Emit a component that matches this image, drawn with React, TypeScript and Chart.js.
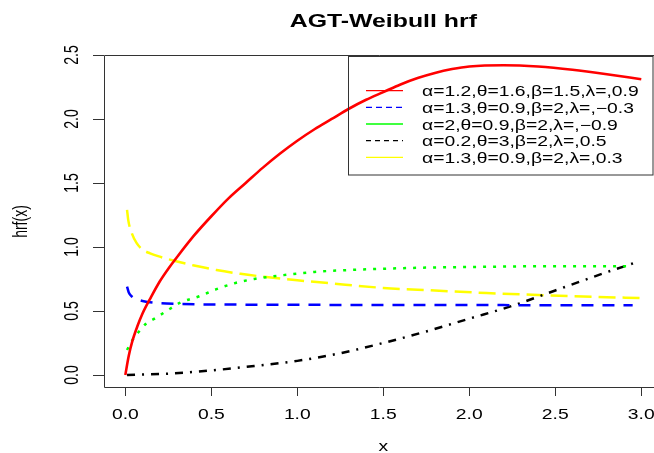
import React, { useEffect, useRef } from "react";
import { Chart, registerables } from "chart.js";

Chart.register(...registerables);

// ---- Data ----
const chartTitle = "AGT-Weibull hrf";
const xTitle = "x";
const yTitle = "hrf(x)";
const xTicks = [0, 0.5, 1, 1.5, 2, 2.5, 3];
const yTicks = [0, 0.5, 1, 1.5, 2, 2.5];
const xTickLabels = ["0.0", "0.5", "1.0", "1.5", "2.0", "2.5", "3.0"];
const yTickLabels = ["0.0", "0.5", "1.0", "1.5", "2.0", "2.5"];

const seriesLabels = [
  "α=1.2,θ=1.6,β=1.5,λ=,0.9",
  "α=1.3,θ=0.9,β=2,λ=,−0.3",
  "α=2,θ=0.9,β=2,λ=,−0.9",
  "α=0.2,θ=3,β=2,λ=,0.5",
  "α=1.3,θ=0.9,β=2,λ=,0.3",
];

const redX = [0, 0.02, 0.04, 0.07, 0.1, 0.15, 0.2, 0.25, 0.3, 0.4, 0.5, 0.6, 0.7, 0.8, 0.9, 1.0, 1.1, 1.2, 1.3, 1.4, 1.5, 1.6, 1.7, 1.8, 1.9, 2.0, 2.2, 2.4, 2.6, 2.8, 3.0];
const redY = [0, 0.15, 0.26, 0.38, 0.48, 0.61, 0.73, 0.83, 0.92, 1.09, 1.24, 1.38, 1.5, 1.62, 1.73, 1.83, 1.92, 2.0, 2.08, 2.15, 2.21, 2.27, 2.32, 2.36, 2.39, 2.41, 2.42, 2.41, 2.385, 2.35, 2.31];

const blueX = [0.01, 0.02, 0.04, 0.07, 0.1, 0.16, 0.3, 0.6, 1.0, 1.5, 2.0, 2.5, 2.95];
const blueY = [0.69, 0.645, 0.61, 0.59, 0.578, 0.565, 0.555, 0.55, 0.548, 0.547, 0.546, 0.545, 0.544];

const greenX = [0.01, 0.04, 0.08, 0.12, 0.17, 0.24, 0.32, 0.43, 0.53, 0.63, 0.75, 0.92, 1.1, 1.3, 1.5, 1.8, 2.1, 2.5, 2.95];
const greenY = [0.195, 0.27, 0.34, 0.4, 0.44, 0.5, 0.565, 0.615, 0.67, 0.715, 0.75, 0.78, 0.805, 0.82, 0.83, 0.84, 0.845, 0.85, 0.85];

const blackX = [0.01, 0.25, 0.5, 0.75, 1.0, 1.25, 1.5, 1.75, 2.0, 2.25, 2.5, 2.75, 2.97];
const blackY = [0, 0.01, 0.035, 0.07, 0.11, 0.17, 0.25, 0.34, 0.44, 0.54, 0.66, 0.78, 0.88];

const yellowX = [0.01, 0.017, 0.037, 0.066, 0.1, 0.144, 0.21, 0.29, 0.4, 0.53, 0.67, 0.82, 1.0, 1.2, 1.5, 1.8, 2.1, 2.4, 2.75, 3.0];
const yellowY = [1.29, 1.21, 1.11, 1.03, 0.98, 0.95, 0.92, 0.89, 0.855, 0.82, 0.79, 0.765, 0.74, 0.715, 0.68, 0.66, 0.64, 0.625, 0.61, 0.6];

const X_MIN = -0.124;
const X_MAX = 3.074;
const Y_MIN = -0.102;
const Y_MAX = 2.5;

// ---- Styles ----
const colors = ["#ff0000", "#0000ff", "#00ff00", "#000000", "#ffff00"];
const curveDash = [[], [12, 9], [3, 7], [8, 7, 2, 7], [17, 7]];
const curveWidth = [2.6, 2.5, 2.5, 2.5, 2.5];
const legendDash = [[], [6, 4], [], [5, 4], []];
const SX = 1.38;
const FONT = '"Liberation Sans", Arial, Helvetica, sans-serif';

function pts(xs: number[], ys: number[]) {
  return xs.map((x, i) => ({ x, y: ys[i] }));
}

function drawText(
  ctx: CanvasRenderingContext2D,
  s: string,
  x: number,
  y: number,
  font: string,
  align: CanvasTextAlign,
  rotate = false
) {
  ctx.save();
  ctx.translate(x, y);
  ctx.scale(SX, 1);
  if (rotate) ctx.rotate(-Math.PI / 2);
  ctx.font = font;
  ctx.textAlign = align;
  ctx.textBaseline = "alphabetic";
  ctx.fillStyle = "#000";
  ctx.fillText(s, 0, 0);
  ctx.restore();
}

const rPlotPlugin = {
  id: "rPlot",
  afterDraw(chart: any) {
    const ctx: CanvasRenderingContext2D = chart.ctx;
    const { left, top, bottom, right } = chart.chartArea;
    const xs = chart.scales.x;
    const ys = chart.scales.y;
    ctx.save();
    ctx.strokeStyle = "#333";
    ctx.lineWidth = 1;
    ctx.beginPath();
    ctx.moveTo(right + 2, top + 0.5);
    ctx.lineTo(left + 0.5, top + 0.5);
    ctx.lineTo(left + 0.5, bottom - 0.5);
    ctx.lineTo(right + 2, bottom - 0.5);
    ctx.stroke();
    ctx.beginPath();
    xTicks.forEach((v) => {
      const px = Math.round(xs.getPixelForValue(v)) + 0.5;
      ctx.moveTo(px, bottom);
      ctx.lineTo(px, bottom + 8);
    });
    yTicks.forEach((v) => {
      const py = Math.round(ys.getPixelForValue(v)) + 0.5;
      ctx.moveTo(left, py);
      ctx.lineTo(left - 11, py);
    });
    ctx.stroke();
    ctx.restore();

    const tickFont = `14px ${FONT}`;
    xTicks.forEach((v, i) => {
      drawText(ctx, xTickLabels[i], xs.getPixelForValue(v), bottom + 31, tickFont, "center");
    });
    yTicks.forEach((v, i) => {
      drawText(ctx, yTickLabels[i], left - 26, ys.getPixelForValue(v), tickFont, "center", true);
    });
    drawText(ctx, xTitle, xs.getPixelForValue(1.5), bottom + 63, tickFont, "center");
    drawText(ctx, yTitle, 27, (top + bottom) / 2, tickFont, "center", true);
    drawText(ctx, chartTitle, xs.getPixelForValue(1.5), 27, `bold 18px ${FONT}`, "center");

    ctx.save();
    ctx.strokeStyle = "#333";
    ctx.lineWidth = 1;
    ctx.strokeRect(348.5, 56.5, 304.5, 118.5);
    const rows = [90.7, 107.3, 124, 140.7, 157.3];
    rows.forEach((ry, i) => {
      ctx.save();
      ctx.strokeStyle = colors[i];
      ctx.lineWidth = 1.3;
      ctx.setLineDash(legendDash[i]);
      ctx.beginPath();
      ctx.moveTo(366, ry);
      ctx.lineTo(403, ry);
      ctx.stroke();
      ctx.restore();
      drawText(ctx, seriesLabels[i], 422, ry + 5.5, `14px ${FONT}`, "left");
    });
    ctx.restore();
  },
};

export default function App() {
  const ref = useRef<HTMLCanvasElement | null>(null);
  useEffect(() => {
    if (!ref.current) return;
    const series = [
      pts(redX, redY),
      pts(blueX, blueY),
      pts(greenX, greenY),
      pts(blackX, blackY),
      pts(yellowX, yellowY),
    ];
    const chart = new Chart(ref.current, {
      type: "line",
      data: {
        datasets: series.map((d, i) => ({
          label: seriesLabels[i],
          data: d,
          borderColor: colors[i],
          backgroundColor: colors[i],
          borderWidth: curveWidth[i],
          borderDash: curveDash[i],
          pointRadius: 0,
          fill: false,
          cubicInterpolationMode: "monotone" as const,
        })),
      },
      options: {
        animation: false,
        responsive: false,
        maintainAspectRatio: false,
        layout: { padding: { left: 104, top: 55, right: 0, bottom: 65 } },
        plugins: {
          legend: { display: false },
          title: { display: false },
          tooltip: { enabled: false },
        },
        scales: {
          x: { type: "linear", min: X_MIN, max: X_MAX, display: false },
          y: { type: "linear", min: Y_MIN, max: Y_MAX, display: false },
        },
      },
      plugins: [rPlotPlugin],
    });
    return () => chart.destroy();
  }, []);
  return (
    <div style={{ position: "fixed", left: 0, top: 0, width: 654, height: 453, background: "#fff" }}>
      <canvas ref={ref} width={654} height={453} style={{ width: 654, height: 453 }} />
    </div>
  );
}
